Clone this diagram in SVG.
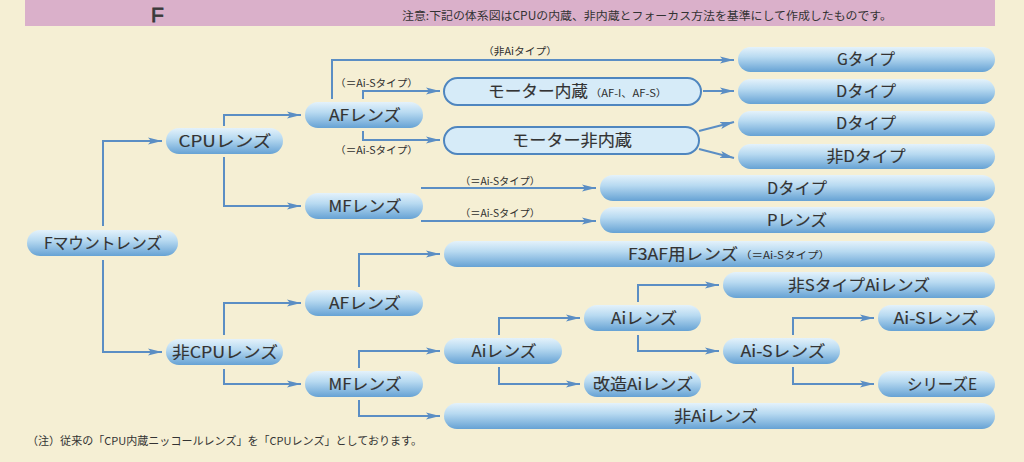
<svg xmlns="http://www.w3.org/2000/svg" width="1024" height="462" viewBox="0 0 1024 462">
<defs>
<linearGradient id="pill" x1="0" y1="0" x2="0" y2="1">
<stop offset="0" stop-color="#e4f2fb"/>
<stop offset="0.4" stop-color="#b8daf1"/>
<stop offset="1" stop-color="#66a2d4"/>
</linearGradient>
<marker id="ah" viewBox="0 0 14 8" refX="14" refY="4" markerWidth="14" markerHeight="8" markerUnits="userSpaceOnUse" orient="auto">
<path d="M0,0.5 L14,4 L0,7.5 L3,4 Z" fill="#5b8ec4"/>
</marker>
<style>
.n{fill:url(#pill)}
.o{fill:#d6ebf8;stroke:#4f86bf;stroke-width:2}
.t{font-family:"Noto Sans CJK JP","Noto Sans",sans-serif;font-size:16px;fill:#333;stroke:#333;stroke-width:0.15;text-anchor:middle}
.s{font-family:"Noto Sans CJK JP","Noto Sans",sans-serif;font-size:10px;fill:#2e2e2e}
.c path{fill:none;stroke:#5b8ec4;stroke-width:2;marker-end:url(#ah)}
</style>
</defs>
<rect x="0" y="0" width="1024" height="462" fill="#f5efd4"/>
<rect x="25" y="0" width="970" height="26" fill="#dab0ca"/>
<text x="151" y="22" font-family="Liberation Sans, sans-serif" font-size="21" fill="#3a3a3a" stroke="#3a3a3a" stroke-width="0.8">F</text>
<text x="402" y="20" font-family="Noto Sans CJK JP, sans-serif" font-size="11.5" fill="#333" textLength="490" lengthAdjust="spacingAndGlyphs">注意:下記の体系図はCPUの内蔵、非内蔵とフォーカス方法を基準にして作成したものです。</text>
<text x="27" y="445" font-family="Noto Sans CJK JP, sans-serif" font-size="11" fill="#333" textLength="395" lengthAdjust="spacingAndGlyphs">（注）従来の「CPU内蔵ニッコールレンズ」を「CPUレンズ」としております。</text>

<g id="connectors" class="c">
<path d="M103,226 V141 H162"/>
<path d="M103,260 V352 H162"/>
<path d="M224,126 V115 H301"/>
<path d="M224,157 V206 H301"/>
<path d="M224,335 V303 H301"/>
<path d="M224,369 V384 H301"/>
<path d="M332,99 V60 H734"/>
<path d="M363,99 V91 H440"/>
<path d="M363,131 V140 H440"/>
<path d="M703,91 H734"/>
<path d="M699,131 L734,122"/>
<path d="M699,149 L734,158"/>
<path d="M421,188 H596"/>
<path d="M421,221 H596"/>
<path d="M359,287 V254 H440"/>
<path d="M359,368 V351 H440"/>
<path d="M359,400 V416 H440"/>
<path d="M499,335 V318 H580"/>
<path d="M499,367 V384 H580"/>
<path d="M638,302 V285 H719"/>
<path d="M638,335 V351 H719"/>
<path d="M793,335 V318 H874"/>
<path d="M793,367 V384 H874"/>
</g>

<g id="edge-labels">
<text class="s" x="483" y="55" textLength="74" lengthAdjust="spacingAndGlyphs">（非Aiタイプ）</text>
<text class="s" x="335" y="87" textLength="83" lengthAdjust="spacingAndGlyphs">（＝Ai-Sタイプ）</text>
<text class="s" x="335" y="154" textLength="83" lengthAdjust="spacingAndGlyphs">（＝Ai-Sタイプ）</text>
<text class="s" x="460" y="185" textLength="80" lengthAdjust="spacingAndGlyphs">（＝Ai-Sタイプ）</text>
<text class="s" x="460" y="217" textLength="80" lengthAdjust="spacingAndGlyphs">（＝Ai-Sタイプ）</text>
</g>

<g id="n-fmount"><rect class="n" x="27" y="230" width="151" height="26" rx="13"/><text class="t" x="103" y="248.5" textLength="118" lengthAdjust="spacingAndGlyphs">Fマウントレンズ</text></g>
<g id="n-cpu"><rect class="n" x="166" y="128" width="117" height="26" rx="13"/><text class="t" x="225" y="146.5" textLength="93" lengthAdjust="spacingAndGlyphs">CPUレンズ</text></g>
<g id="n-noncpu"><rect class="n" x="166" y="339" width="117" height="26" rx="13"/><text class="t" x="225" y="357.5" textLength="106" lengthAdjust="spacingAndGlyphs">非CPUレンズ</text></g>
<g id="n-af1"><rect class="n" x="305" y="102" width="118" height="26" rx="13"/><text class="t" x="365" y="120.5" textLength="72" lengthAdjust="spacingAndGlyphs">AFレンズ</text></g>
<g id="n-mf1"><rect class="n" x="305" y="193" width="118" height="26" rx="13"/><text class="t" x="365" y="211.5" textLength="73" lengthAdjust="spacingAndGlyphs">MFレンズ</text></g>
<g id="n-af2"><rect class="n" x="305" y="290" width="118" height="26" rx="13"/><text class="t" x="365" y="308.5" textLength="72" lengthAdjust="spacingAndGlyphs">AFレンズ</text></g>
<g id="n-mf2"><rect class="n" x="305" y="371" width="118" height="26" rx="13"/><text class="t" x="365" y="389.5" textLength="73" lengthAdjust="spacingAndGlyphs">MFレンズ</text></g>
<g id="n-motor-in"><rect class="o" x="444" y="78" width="257" height="27" rx="13.5"/><text class="t" x="488" y="97" style="text-anchor:start" textLength="100" lengthAdjust="spacingAndGlyphs">モーター内蔵</text><text class="s" x="590" y="96.5" textLength="77" lengthAdjust="spacingAndGlyphs">（AF-I、AF-S）</text></g>
<g id="n-motor-out"><rect class="o" x="444" y="127" width="255" height="27" rx="13.5"/><text class="t" x="572" y="146" textLength="120" lengthAdjust="spacingAndGlyphs">モーター非内蔵</text></g>
<g id="n-g"><rect class="n" x="738" y="47" width="257" height="25" rx="12.5"/><text class="t" x="866" y="65" textLength="58" lengthAdjust="spacingAndGlyphs">Gタイプ</text></g>
<g id="n-d1"><rect class="n" x="738" y="79" width="257" height="25" rx="12.5"/><text class="t" x="866" y="97" textLength="60" lengthAdjust="spacingAndGlyphs">Dタイプ</text></g>
<g id="n-d2"><rect class="n" x="738" y="111" width="257" height="25" rx="12.5"/><text class="t" x="866" y="129" textLength="60" lengthAdjust="spacingAndGlyphs">Dタイプ</text></g>
<g id="n-nond"><rect class="n" x="738" y="144" width="257" height="25" rx="12.5"/><text class="t" x="866" y="162" textLength="79" lengthAdjust="spacingAndGlyphs">非Dタイプ</text></g>
<g id="n-d3"><rect class="n" x="600" y="175" width="395" height="26" rx="13"/><text class="t" x="797" y="193.5" textLength="60" lengthAdjust="spacingAndGlyphs">Dタイプ</text></g>
<g id="n-p"><rect class="n" x="600" y="207" width="395" height="26" rx="13"/><text class="t" x="797" y="225.5" textLength="60" lengthAdjust="spacingAndGlyphs">Pレンズ</text></g>
<g id="n-f3af"><rect class="n" x="444" y="241" width="551" height="26" rx="13"/><text class="t" x="628" y="259.5" style="text-anchor:start" textLength="110" lengthAdjust="spacingAndGlyphs">F3AF用レンズ</text><text class="s" x="740" y="258.5" textLength="90" lengthAdjust="spacingAndGlyphs">（＝Ai-Sタイプ）</text></g>
<g id="n-nons"><rect class="n" x="723" y="272" width="272" height="26" rx="13"/><text class="t" x="859" y="290.5" textLength="142" lengthAdjust="spacingAndGlyphs">非SタイプAiレンズ</text></g>
<g id="n-ai1"><rect class="n" x="444" y="338" width="118" height="26" rx="13"/><text class="t" x="504" y="356.5" textLength="65" lengthAdjust="spacingAndGlyphs">Aiレンズ</text></g>
<g id="n-ai2"><rect class="n" x="584" y="305" width="117" height="26" rx="13"/><text class="t" x="644" y="323.5" textLength="66" lengthAdjust="spacingAndGlyphs">Aiレンズ</text></g>
<g id="n-kaizo"><rect class="n" x="584" y="371" width="117" height="26" rx="13"/><text class="t" x="643" y="389.5" textLength="100" lengthAdjust="spacingAndGlyphs">改造Aiレンズ</text></g>
<g id="n-ais1"><rect class="n" x="723" y="338" width="117" height="26" rx="13"/><text class="t" x="783" y="356.5" textLength="85" lengthAdjust="spacingAndGlyphs">Ai-Sレンズ</text></g>
<g id="n-ais2"><rect class="n" x="878" y="305" width="117" height="26" rx="13"/><text class="t" x="936" y="323.5" textLength="85" lengthAdjust="spacingAndGlyphs">Ai-Sレンズ</text></g>
<g id="n-seriese"><rect class="n" x="878" y="371" width="117" height="26" rx="13"/><text class="t" x="942" y="389.5" textLength="70" lengthAdjust="spacingAndGlyphs">シリーズE</text></g>
<g id="n-nonai"><rect class="n" x="444" y="403" width="551" height="26" rx="13"/><text class="t" x="716" y="421.5" textLength="84" lengthAdjust="spacingAndGlyphs">非Aiレンズ</text></g>
</svg>
